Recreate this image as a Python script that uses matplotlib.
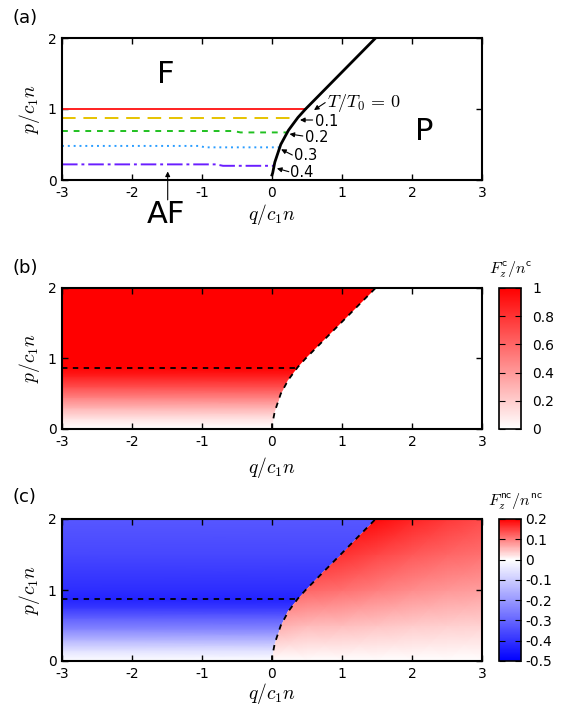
import matplotlib
matplotlib.use("Agg")
import matplotlib.pyplot as plt
import numpy as np
from matplotlib.colors import LinearSegmentedColormap
from matplotlib.patches import Polygon

plt.rcParams["axes.unicode_minus"] = False
plt.rcParams["mathtext.fontset"] = "cm"

# phase boundary F / P
bound_p = [0.0, 0.07, 0.1, 0.25, 0.5, 0.7, 0.88, 1.0, 1.25, 1.5, 1.75, 2.0]
bound_q = [0.0, 0.0, 0.01, 0.04, 0.125, 0.235, 0.37, 0.48, 0.73, 0.98, 1.23, 1.48]

# panel (a): critical lines for each temperature
temps = ["0", "0.1", "0.2", "0.3", "0.4"]
line_q = [
    [-3, 0.48],
    [-3, 0.37],
    [-3, -0.55, -0.45, 0.22],
    [-3, -1.05, -0.95, 0.11],
    [-3, -0.8, -0.7, 0.02],
]
line_p = [
    [1.0, 1.0],
    [0.87, 0.87],
    [0.69, 0.69, 0.67, 0.67],
    [0.48, 0.48, 0.46, 0.46],
    [0.22, 0.22, 0.20, 0.20],
]
dashed_p = 0.87
dashed_q_end = 0.37

# panel (b): F_z^c / n^c in the F region, versus p
fc_p = [0.0, 0.15, 0.3, 0.45, 0.6, 0.75, 0.87, 2.0]
fc_val = [0.0, 0.12, 0.3, 0.5, 0.7, 0.88, 1.0, 1.0]

# panel (c): F_z^nc / n^nc in the F region, versus p
fnc_left_p = [0.0, 0.15, 0.3, 0.45, 0.6, 0.75, 0.87, 1.0, 1.5, 2.0]
fnc_left_val = [0.0, -0.06, -0.15, -0.24, -0.31, -0.39, -0.43, -0.41, -0.36, -0.33]

# panel (c): F_z^nc / n^nc in the P region, grid over (q, p)
fnc_right_q = [0.0, 0.5, 1.0, 1.5, 2.0, 2.5, 3.0]
fnc_right_p = [0.0, 0.5, 1.0, 1.5, 2.0]
fnc_right_val = [
    [0.0, 0.0, 0.0, 0.0, 0.0, 0.0, 0.0],
    [0.065, 0.055, 0.05, 0.045, 0.04, 0.038, 0.035],
    [0.13, 0.12, 0.11, 0.10, 0.09, 0.082, 0.075],
    [0.17, 0.17, 0.16, 0.145, 0.13, 0.12, 0.11],
    [0.2, 0.2, 0.2, 0.19, 0.17, 0.155, 0.14],
]

W, H = 567, 709
fig = plt.figure(figsize=(W / 100, H / 100), dpi=100)


def box(top, bottom, left=62, right=482):
    return [left / W, 1 - bottom / H, (right - left) / W, (bottom - top) / H]


def style_axes(ax, xpad=5):
    ax.set_xlim(-3, 3)
    ax.set_ylim(0, 2)
    ax.set_xticks([-3, -2, -1, 0, 1, 2, 3])
    ax.set_yticks([0, 1, 2])
    ax.tick_params(direction="in", length=4, width=1, top=True, right=True,
                   labelsize=10, pad=4)
    for s in ax.spines.values():
        s.set_linewidth(1.5)
    ax.set_xlabel("$q/c_1n$", fontsize=14, labelpad=xpad)
    ax.set_ylabel("$p/c_1n$", fontsize=14, labelpad=4)


def regions(ax):
    left = list(zip(bound_q, bound_p)) + [(-3, 2), (-3, 0)]
    right = [(bound_q[-1], bound_p[-1]), (3, 2), (3, 0)] + list(zip(bound_q, bound_p))
    pl = Polygon(left, closed=True, transform=ax.transData)
    pr = Polygon(right, closed=True, transform=ax.transData)
    return pl, pr


def boundary_lines(ax):
    ax.plot(bound_q, bound_p, color="k", lw=1.3, ls=(0, (3, 3)))
    ax.plot([-3, dashed_q_end], [dashed_p, dashed_p], color="k", lw=1.3, ls=(0, (3, 3)))


# ---------------- (a)
ax = fig.add_axes(box(38, 180))
colors = ["#ff2020", "#e6c300", "#20c020", "#2a9dff", "#6a1eff"]
styles = ["-", (0, (7, 4)), (0, (3, 3)), (0, (1, 2)), (0, (8, 2, 1.5, 2))]
for i in range(len(temps)):
    ax.plot(line_q[i], line_p[i], color=colors[i], lw=1.4, ls=styles[i])
ax.plot(bound_q[1:], bound_p[1:], color="k", lw=2)
style_axes(ax, xpad=2)

arrow_head = [(0.6, 0.985), (0.40, 0.845), (0.25, 0.648), (0.13, 0.432), (0.07, 0.164)]
arrow_tail = [(0.76, 1.09), (0.58, 0.845), (0.44, 0.62), (0.29, 0.352), (0.24, 0.117)]
text_pos = [(0.79, 1.08), (0.61, 0.83), (0.47, 0.60), (0.32, 0.34), (0.26, 0.10)]
for i, t in enumerate(temps):
    ax.annotate("", xy=arrow_head[i], xytext=arrow_tail[i],
                arrowprops=dict(arrowstyle="-|>", lw=0.8, color="k",
                                mutation_scale=7, shrinkA=0, shrinkB=0))
    if i == 0:
        ax.text(*text_pos[i], r"$T/T_0\,=\,0$", fontsize=13, ha="left", va="center")
    else:
        ax.text(*text_pos[i], t, fontsize=10.5, ha="left", va="center")

ax.text(-1.52, 1.48, "F", fontsize=22, ha="center", va="center")
ax.text(2.18, 0.69, "P", fontsize=22, ha="center", va="center")
ax.text(-1.52, -0.49, "AF", fontsize=22, ha="center", va="center", clip_on=False)
ax.annotate("", xy=(-1.49, 0.12), xytext=(-1.49, -0.28),
            arrowprops=dict(arrowstyle="-|>", lw=0.8, color="k",
                            mutation_scale=7, shrinkA=0, shrinkB=0),
            annotation_clip=False)
fig.text(13 / W, 1 - 18 / H, "(a)", fontsize=13, ha="left", va="center")

# ---------------- (b)
cmap_b = LinearSegmentedColormap.from_list("wr", ["#ffffff", "#ff0000"])
ax = fig.add_axes(box(288, 429))
pl, pr = regions(ax)
vals = np.tile(np.array(fc_val)[:, None], (1, 2))
m = ax.pcolormesh([-3, 1.5], fc_p, vals, shading="gouraud", cmap=cmap_b, vmin=0, vmax=1)
m.set_clip_path(pl)
boundary_lines(ax)
style_axes(ax, xpad=5)
cax = fig.add_axes(box(288, 429, 499, 521))
cb = fig.colorbar(m, cax=cax, ticks=[0, 0.2, 0.4, 0.6, 0.8, 1])
cb.ax.set_yticklabels(["0", "0.2", "0.4", "0.6", "0.8", "1"])
cb.ax.tick_params(direction="in", length=4, left=True, right=True, labelsize=10, pad=8)
cb.outline.set_linewidth(1.2)
fig.text(511 / W, 1 - 270 / H, r"$F_z^{\mathsf{c}}/n^{\mathsf{c}}$", fontsize=11.5,
         ha="center", va="center")
fig.text(13 / W, 1 - 268 / H, "(b)", fontsize=13, ha="left", va="center")

# ---------------- (c)
cmap_c = LinearSegmentedColormap.from_list(
    "bwr_nc", [(0, "#0000ff"), (5 / 7, "#ffffff"), (1, "#ff0000")])
ax = fig.add_axes(box(519, 661))
pl, pr = regions(ax)
vals = np.tile(np.array(fnc_left_val)[:, None], (1, 2))
m = ax.pcolormesh([-3, 1.5], fnc_left_p, vals, shading="gouraud", cmap=cmap_c,
                  vmin=-0.5, vmax=0.2)
m.set_clip_path(pl)
m2 = ax.pcolormesh(fnc_right_q, fnc_right_p, np.array(fnc_right_val), shading="gouraud",
                   cmap=cmap_c, vmin=-0.5, vmax=0.2)
m2.set_clip_path(pr)
boundary_lines(ax)
style_axes(ax, xpad=0)
cax = fig.add_axes(box(519, 661, 499, 521))
ticks = [-0.5, -0.4, -0.3, -0.2, -0.1, 0, 0.1, 0.2]
cb = fig.colorbar(m, cax=cax, ticks=ticks)
cb.ax.set_yticklabels(["-0.5", "-0.4", "-0.3", "-0.2", "-0.1", "0", "0.1", "0.2"])
cb.ax.tick_params(direction="in", length=4, left=True, right=True, labelsize=10, pad=3)
cb.outline.set_linewidth(1.2)
fig.text(515 / W, 1 - 502 / H, r"$F_z^{\mathsf{nc}}/n^{\mathsf{nc}}$", fontsize=11.5,
         ha="center", va="center")
fig.text(13 / W, 1 - 497 / H, "(c)", fontsize=13, ha="left", va="center")

fig.savefig("out.png", dpi=100)
